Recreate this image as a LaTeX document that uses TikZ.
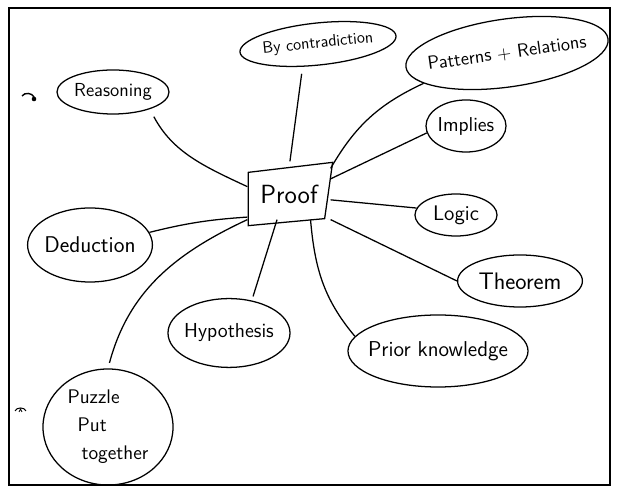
\documentclass[tikz,border=0pt]{standalone}
\usepackage{fontspec}
\usetikzlibrary{shapes.geometric,calc}
\newcommand{\pensize}[1]{\fontsize{#1}{#1}\selectfont}
\begin{document}
\begin{tikzpicture}[x=0.025cm,y=0.025cm,line width=0.9pt,
  every node/.style={font=\sffamily},
  bubble/.style={draw,ellipse,inner xsep=-6pt,inner ysep=0pt}]
 \useasboundingbox (0,0) rectangle (619,492);
 \draw [line width=1.1pt] (9,7) rectangle (610,484);
 \node [minimum width=2.05cm,minimum height=1.25cm,font=\sffamily\pensize{18.7}] (proof) at (289,298) {Proof};
 \draw ($(proof.north west)+(1,-4)$) -- ($(proof.north east)+(2,6)$) -- ($(proof.south east)+(-6,1)$) -- ($(proof.south west)+(1,-6)$) -- cycle;
 \node [bubble,minimum width=3.92cm,minimum height=1.05cm,rotate=6,font=\sffamily\pensize{11.7}] (contra) at (318,448) {By contradiction};
 \node [bubble,minimum width=5.1cm,minimum height=1.7cm,rotate=8,font=\sffamily\pensize{13.3}] (patt) at (507,439) {Patterns + Relations};
 \node [bubble,minimum width=2.8cm,minimum height=1.1cm,font=\sffamily\pensize{13.4}] (reason) at (113,400) {Reasoning};
 \node [bubble,minimum width=2cm,minimum height=1.3cm,font=\sffamily\pensize{14.3}] (impl) at (466,366) {Implies};
 \node [bubble,minimum width=2.05cm,minimum height=1.05cm,font=\sffamily\pensize{15}] (logic) at (456,277) {Logic};
 \node [bubble,minimum width=3.12cm,minimum height=1.3cm,font=\sffamily\pensize{17}] (theo) at (520,211) {Theorem};
 \node [bubble,minimum width=4.5cm,minimum height=1.8cm,font=\sffamily\pensize{15.3}] (prior) at (438,141) {Prior knowledge};
 \node [bubble,minimum width=3.05cm,minimum height=1.72cm,font=\sffamily\pensize{14.4}] (hypo) at (229,159) {Hypothesis};
 \node [bubble,minimum width=3.12cm,minimum height=1.85cm,font=\sffamily\pensize{16.2}] (deduc) at (90,247) {Deduction};
 \node [bubble,minimum width=3.25cm,minimum height=2.9cm,align=left,font=\sffamily\pensize{14}] (puzzle) at (108,65) {Puzzle\\[6pt]\hspace{0.25cm}Put\\[6pt]\hspace{0.35cm}together};
 \draw [line width=1pt] (22,396) to[bend left=60] (34,395);
 \fill (34,393) circle (2.3);
 \draw [line width=0.7pt] (15,81) to[bend left=70] (26,81);
 \draw [line width=0.6pt] (19,80) -- (20.5,83) -- (22,80);
 \draw [shorten <=6pt] (reason.-25) to[out=-62,in=155] (proof.170);
 \draw [shorten <=5pt,shorten >=5pt] (contra.-130) -- (proof.north);
 \draw (patt.-168) to[out=205,in=60] (proof.north east);
 \draw (impl.-170) -- (proof.20);
 \draw (logic.170) -- (proof.-8);
 \draw (proof.south east) -- (theo.west);
 \draw (proof.-50) to[out=-85,in=130] (prior.170);
 \draw [shorten >=3pt] (proof.-115) -- (hypo.55);
 \draw [shorten >=4pt] (proof.south west) to[out=205,in=75] (puzzle.north);
 \draw (deduc.12) to[bend left=5] (proof.-151);
\end{tikzpicture}
\end{document}
